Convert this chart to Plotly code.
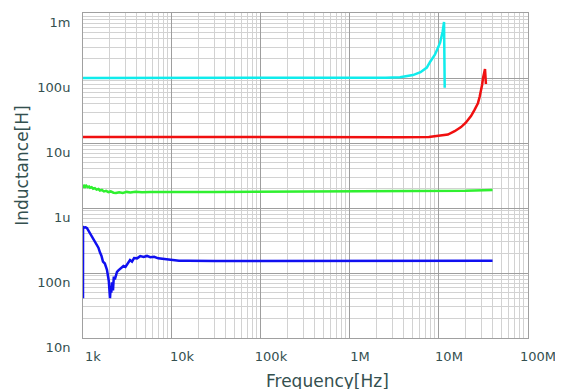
import plotly.graph_objects as go

# ---- data (Hz, H) ----
cyan_f = [1e3, 1e4, 1e5, 1e6, 2.5e6, 3.65e6, 5.1e6, 6.2e6, 7.3e6, 8.0e6, 9.0e6, 9.5e6, 10.3e6, 11.0e6, 11.4e6, 11.6e6]
cyan_L = [100e-6, 100e-6, 100e-6, 100e-6, 101e-6, 103e-6, 111e-6, 123e-6, 145e-6, 180e-6, 228e-6, 270e-6, 350e-6, 520e-6, 730e-6, 71e-6]

red_f = [1e3, 1e4, 1e5, 1e6, 3.65e6, 7.7e6, 10.3e6, 12.6e6, 15e6, 17.7e6, 20e6, 22.9e6, 25e6, 27.4e6, 28.7e6, 29.6e6, 30.5e6, 31.2e6, 32.1e6, 32.9e6, 33.7e6]
red_L = [12.4e-6, 12.3e-6, 12.3e-6, 12.3e-6, 12.3e-6, 12.4e-6, 12.9e-6, 13.5e-6, 15.2e-6, 17.6e-6, 20.5e-6, 26e-6, 32e-6, 41e-6, 52e-6, 62e-6, 78e-6, 98e-6, 118e-6, 137e-6, 81e-6]

green_f = [1000, 1015, 1030, 1060, 1090, 1130, 1170, 1200, 1250, 1300, 1360, 1420, 1490, 1550, 1630, 1720, 1820, 1930, 2050, 2200, 2350, 2550, 2800, 3100, 3400, 3900, 4600, 5700, 7500, 1e4, 3e4, 1e5, 1e6, 5e6, 1e7, 2e7, 4e7]
green_L = [2.03e-6, 2.18e-6, 2.26e-6, 2.12e-6, 2.2e-6, 2.1e-6, 2.14e-6, 2.05e-6, 2.09e-6, 1.98e-6, 2.02e-6, 1.92e-6, 1.96e-6, 1.86e-6, 1.9e-6, 1.8e-6, 1.84e-6, 1.76e-6, 1.8e-6, 1.72e-6, 1.7e-6, 1.75e-6, 1.71e-6, 1.77e-6, 1.74e-6, 1.78e-6, 1.75e-6, 1.77e-6, 1.76e-6, 1.77e-6, 1.76e-6, 1.77e-6, 1.77e-6, 1.78e-6, 1.8e-6, 1.84e-6, 1.89e-6]

blue_f = [1000, 1001, 1030, 1070, 1109, 1150, 1198, 1250, 1300, 1364, 1420, 1490, 1553, 1610, 1677, 1760, 1859, 1900, 1950, 2011, 2050, 2080, 2117, 2172, 2220, 2280, 2350, 2410, 2500, 2603, 2700, 2850, 3000, 3119, 3250, 3373, 3550, 3750, 4046, 4400, 4800, 5236, 5700, 6300, 7000, 8000, 9000, 1e4, 1.2e4, 1.5e4, 2e4, 3e4, 5e4, 1e5, 1e6, 1e7, 4e7]
blue_L = [41e-9, 510e-9, 500e-9, 505e-9, 490e-9, 450e-9, 395e-9, 370e-9, 330e-9, 306e-9, 270e-9, 245e-9, 206e-9, 185e-9, 150e-9, 140e-9, 112e-9, 98e-9, 75e-9, 41e-9, 62e-9, 50e-9, 72e-9, 54e-9, 88e-9, 80e-9, 98e-9, 104e-9, 110e-9, 116e-9, 122e-9, 128e-9, 124e-9, 135e-9, 142e-9, 158e-9, 150e-9, 170e-9, 168e-9, 182e-9, 176e-9, 183e-9, 175e-9, 178e-9, 168e-9, 164e-9, 158e-9, 156e-9, 154e-9, 155e-9, 153e-9, 153e-9, 153e-9, 153e-9, 153e-9, 154e-9, 154e-9]

x_tickvals = [1e3, 1e4, 1e5, 1e6, 1e7, 1e8]
x_ticktext = ["1k", "10k", "100k", "1M", "10M", "100M"]
y_tickvals = [1e-8, 1e-7, 1e-6, 1e-5, 1e-4, 1e-3]
y_ticktext = ["10n", "100n", "1u", "10u", "100u", "1m"]

TXT = "#34504f"
FONT = "DejaVu Sans"

fig = go.Figure()
for f, L, c in [(blue_f, blue_L, "#1010f0"), (green_f, green_L, "#30f030"),
                (red_f, red_L, "#f01010"), (cyan_f, cyan_L, "#10ecec")]:
    fig.add_trace(go.Scatter(x=f, y=L, mode="lines", line=dict(color=c, width=2.5), showlegend=False))

axis_common = dict(
    type="log", showgrid=True, gridcolor="#9e9e9e", gridwidth=1,
    showline=True, linecolor="#a0a0a0", linewidth=1, mirror=True,
    ticks="", zeroline=False, automargin=False,
    tickfont=dict(family=FONT, size=13, color=TXT),
    minor=dict(showgrid=True, gridcolor="#d2d2d2", gridwidth=1, dtick="D1", ticks=""),
)

fig.update_xaxes(**axis_common, range=[3, 8.0004], tickmode="array", tickvals=x_tickvals,
                 ticktext=x_ticktext, ticklabelshift=10, ticklabelstandoff=6,
                 ticklabeloverflow="allow")
fig.update_yaxes(**axis_common, range=[-8, -2.9996], tickmode="array", tickvals=y_tickvals,
                 ticktext=y_ticktext, ticklabelshift=9, ticklabelstandoff=9,
                 ticklabeloverflow="allow")

fig.add_annotation(text="Frequency[Hz]", xref="paper", yref="paper", x=0.55, y=0,
                   yshift=-43, showarrow=False, xanchor="center", yanchor="middle",
                   font=dict(family=FONT, size=17, color=TXT))
fig.add_annotation(text="Inductance[H]", xref="paper", yref="paper", x=0, y=0.53,
                   xshift=-61, showarrow=False, xanchor="center", yanchor="middle",
                   textangle=-90, font=dict(family=FONT, size=17, color=TXT))

# the page body adds an 8px offset, so the figure is 8px smaller and margins compensate
fig.update_layout(width=555, height=381, margin=dict(l=75, r=35, t=5, b=51),
                  paper_bgcolor="white", plot_bgcolor="white")

fig.write_html("out.html")
